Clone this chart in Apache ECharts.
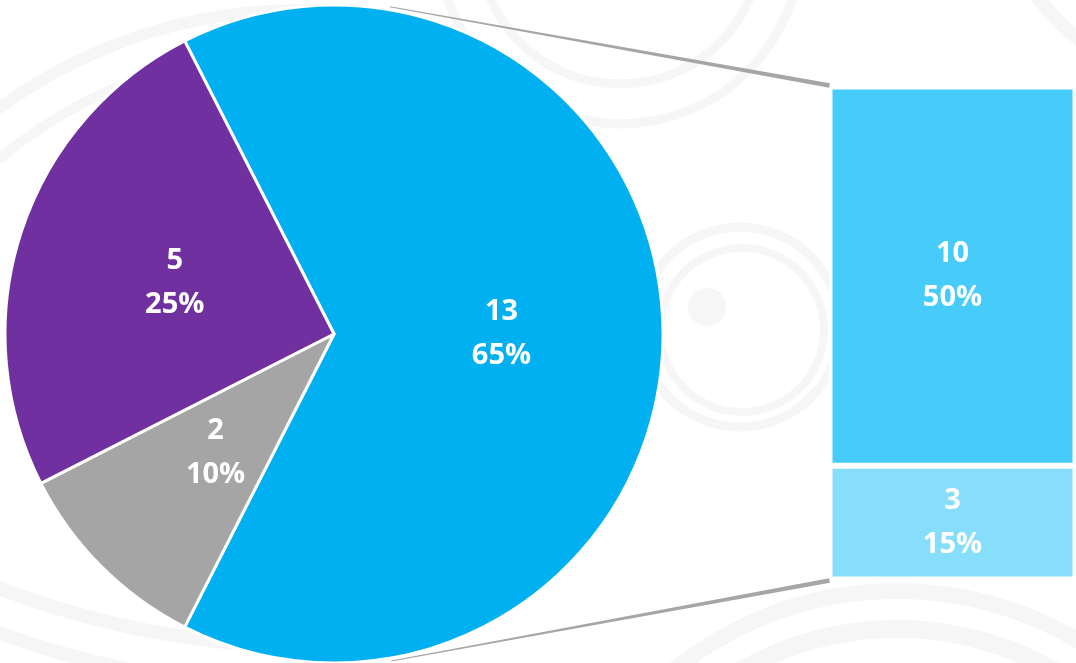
<!DOCTYPE html>
<html>
<head>
<meta charset="utf-8">
<script src="https://cdn.jsdelivr.net/npm/echarts@6/dist/echarts.min.js"></script>
<style>
html,body{margin:0;padding:0;background:#fff;}
#c{width:1076px;height:663px;}
</style>
</head>
<body>
<div id="c"></div>
<script>
// ---- data ----
var pieNames = ['Other', 'B', 'A'];
var pieValues = [13, 2, 5];
var pieColors = ['#00B0F0', '#A5A5A5', '#7030A0'];
var barNames = ['Sub 2', 'Sub 1'];      // bottom to top
var barValues = [3, 10];
var barColors = ['#87DEFA', '#47CBF8'];

// ---- layout ----
var CX = 334, CY = 334, R = 329;
var GRID = {left: 829.5, top: 86.5, width: 246, height: 493};

var total = pieValues.reduce(function(a, b){ return a + b; }, 0);
var stackMax = barValues.reduce(function(a, b){ return a + b; }, 0);

var labelStyle = {
  color: '#fff', fontFamily: 'Open Sans', fontWeight: 'bold',
  fontSize: 29, lineHeight: 44
};

function tangentPoint(px, py, upper) {
  var dx = px - CX, dy = py - CY;
  var d = Math.sqrt(dx*dx + dy*dy);
  var th = Math.atan2(dy, dx);
  var a = Math.acos(R / d);
  var t1 = th - a, t2 = th + a;
  var p1 = [CX + R*Math.cos(t1), CY + R*Math.sin(t1)];
  var p2 = [CX + R*Math.cos(t2), CY + R*Math.sin(t2)];
  if (upper) return p1[1] < p2[1] ? p1 : p2;
  return p1[1] > p2[1] ? p1 : p2;
}

function wedge(s, e, w0, w1) {
  var dx = e[0] - s[0], dy = e[1] - s[1];
  var L = Math.sqrt(dx*dx + dy*dy);
  var nx = -dy / L, ny = dx / L;
  return [
    [s[0] + nx*w0/2, s[1] + ny*w0/2],
    [e[0] + nx*w1/2, e[1] + ny*w1/2],
    [e[0] - nx*w1/2, e[1] - ny*w1/2],
    [s[0] - nx*w0/2, s[1] - ny*w0/2]
  ];
}

var chart = echarts.init(document.getElementById('c'), null, {renderer: 'canvas'});

var barSeries = barValues.map(function(v, i){
  return {
    type: 'bar', stack: 's', name: barNames[i],
    data: [v], barWidth: '100%',
    itemStyle: {color: barColors[i], borderColor: '#fff', borderWidth: 3},
    label: Object.assign({
      show: true, position: 'inside',
      formatter: function(p){ return p.value + '\n' + Math.round(p.value / total * 100) + '%'; }
    }, labelStyle),
    silent: true, animation: false
  };
});

var WM = '#f6f6f6';
function ring(cx, cy, r, w, a0, a1) {
  if (a0 === undefined) {
    return {type: 'circle', shape: {cx: cx, cy: cy, r: r}, style: {fill: 'none', stroke: WM, lineWidth: w}, z: -10, silent: true};
  }
  return {type: 'arc', shape: {cx: cx, cy: cy, r: r, startAngle: a0, endAngle: a1, clockwise: true}, style: {fill: 'none', stroke: WM, lineWidth: w}, z: -10, silent: true};
}

var watermark = [
  // top rings
  ring(620, -57, 141, 9),
  ring(620, -57, 181, 9),
  // top-right
  ring(1200, -120, 200, 14),
  // eye on the right
  ring(740, 327, 100, 9),
  ring(742, 330, 82, 8),
  {type: 'circle', shape: {cx: 707, cy: 307, r: 19}, style: {fill: WM}, z: -10, silent: true},
  // bottom-right
  ring(897, 945, 354, 16, -2.4, -0.7),
  ring(897, 945, 316, 18, -2.4, -0.7),
  // top-left
  ring(300, 520, 510, 12, -2.4, -1.55),
  ring(300, 520, 470, 10, -2.6, -1.7),
  // bottom-left
  ring(319, -253, 900, 14, 1.55, 1.98),
  ring(319, -253, 942, 14, 1.55, 1.98)
];

var topEnd = [GRID.left, GRID.top - 1];
var botEnd = [GRID.left, GRID.top + GRID.height + 1];
var topStart = tangentPoint(topEnd[0], topEnd[1], true);
var botStart = tangentPoint(botEnd[0], botEnd[1], false);
topStart = [topStart[0], topStart[1] - 3];
botStart = [botStart[0], botStart[1] + 3];

var connectors = [
  {type: 'polygon', shape: {points: wedge(topStart, topEnd, 1, 4.5)}, style: {fill: '#A6A6A6'}, z: 5, silent: true},
  {type: 'polygon', shape: {points: wedge(botStart, botEnd, 1, 4.5)}, style: {fill: '#A6A6A6'}, z: 5, silent: true}
];

chart.setOption({
  backgroundColor: '#fff',
  animation: false,
  grid: GRID,
  xAxis: {type: 'category', data: ['x'], show: false},
  yAxis: {type: 'value', min: 0, max: stackMax, show: false},
  graphic: watermark.concat(connectors),
  series: [{
    type: 'pie',
    center: [CX, CY],
    radius: R,
    startAngle: 117,
    clockwise: true,
    silent: true,
    data: pieValues.map(function(v, i){
      return {name: pieNames[i], value: v, itemStyle: {color: pieColors[i]}};
    }),
    itemStyle: {borderColor: '#fff', borderWidth: 3},
    label: Object.assign({show: true, position: 'inside', formatter: '{c}\n{d}%'}, labelStyle),
    labelLine: {show: false}
  }].concat(barSeries)
});
</script>
</body>
</html>
